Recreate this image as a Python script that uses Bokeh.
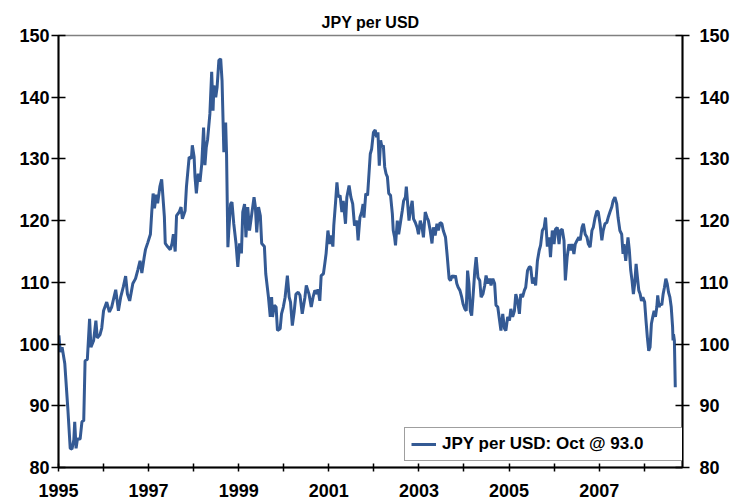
from bokeh.plotting import figure
from bokeh.models import FixedTicker, LinearAxis, Range1d, Legend, LegendItem
from bokeh.embed import file_html
from bokeh.resources import INLINE

# Decimal-year dates and JPY per USD values
dates = [
    1995.01, 1995.04, 1995.08, 1995.14, 1995.21, 1995.26, 1995.30, 1995.34, 1995.36, 1995.39,
    1995.42, 1995.48, 1995.52, 1995.56, 1995.59, 1995.64, 1995.69, 1995.72, 1995.78, 1995.83,
    1995.86, 1995.92, 1995.96, 1996.00, 1996.07, 1996.13, 1996.18, 1996.27, 1996.33, 1996.38,
    1996.44, 1996.49, 1996.53, 1996.58, 1996.65, 1996.71, 1996.76, 1996.81, 1996.85, 1996.90,
    1996.93, 1996.98, 1997.04, 1997.07, 1997.10, 1997.13, 1997.17, 1997.20, 1997.25, 1997.29,
    1997.35, 1997.37, 1997.42, 1997.48, 1997.52, 1997.55, 1997.59, 1997.62, 1997.68, 1997.72,
    1997.75, 1997.81, 1997.84, 1997.90, 1997.95, 1997.97, 1998.01, 1998.03, 1998.06, 1998.10,
    1998.14, 1998.18, 1998.22, 1998.25, 1998.28, 1998.31, 1998.36, 1998.40, 1998.43, 1998.45,
    1998.49, 1998.52, 1998.56, 1998.60, 1998.63, 1998.67, 1998.71, 1998.73, 1998.76, 1998.78,
    1998.82, 1998.85, 1998.89, 1998.94, 1998.98, 1999.02, 1999.06, 1999.09, 1999.13, 1999.16,
    1999.20, 1999.24, 1999.29, 1999.34, 1999.37, 1999.40, 1999.44, 1999.48, 1999.51, 1999.57,
    1999.60, 1999.66, 1999.70, 1999.73, 1999.75, 1999.79, 1999.83, 1999.86, 1999.92, 1999.95,
    1999.99, 2000.03, 2000.08, 2000.12, 2000.15, 2000.19, 2000.23, 2000.27, 2000.32, 2000.36,
    2000.41, 2000.47, 2000.50, 2000.56, 2000.61, 2000.65, 2000.69, 2000.74, 2000.76, 2000.80,
    2000.83, 2000.88, 2000.91, 2000.94, 2000.98, 2001.02, 2001.05, 2001.09, 2001.11, 2001.15,
    2001.18, 2001.21, 2001.25, 2001.29, 2001.32, 2001.37, 2001.40, 2001.45, 2001.49, 2001.53,
    2001.57, 2001.62, 2001.65, 2001.69, 2001.73, 2001.76, 2001.78, 2001.82, 2001.86, 2001.92,
    2001.95, 2001.99, 2002.03, 2002.06, 2002.09, 2002.12, 2002.15, 2002.18, 2002.21, 2002.24,
    2002.27, 2002.30, 2002.33, 2002.37, 2002.41, 2002.43, 2002.46, 2002.48, 2002.52, 2002.55,
    2002.59, 2002.63, 2002.66, 2002.70, 2002.72, 2002.75, 2002.78, 2002.81, 2002.85, 2002.88,
    2002.92, 2002.96, 2002.99, 2003.03, 2003.07, 2003.10, 2003.14, 2003.18, 2003.21, 2003.25,
    2003.29, 2003.32, 2003.36, 2003.40, 2003.43, 2003.47, 2003.51, 2003.54, 2003.59, 2003.63,
    2003.67, 2003.70, 2003.74, 2003.78, 2003.81, 2003.84, 2003.87, 2003.91, 2003.95, 2003.98,
    2004.02, 2004.05, 2004.08, 2004.11, 2004.14, 2004.17, 2004.20, 2004.24, 2004.27, 2004.31,
    2004.35, 2004.38, 2004.42, 2004.46, 2004.49, 2004.53, 2004.57, 2004.60, 2004.64, 2004.68,
    2004.71, 2004.75, 2004.79, 2004.82, 2004.86, 2004.90, 2004.93, 2004.97, 2005.01, 2005.04,
    2005.08, 2005.12, 2005.15, 2005.19, 2005.23, 2005.26, 2005.30, 2005.34, 2005.37, 2005.41,
    2005.45, 2005.48, 2005.52, 2005.56, 2005.59, 2005.63, 2005.67, 2005.70, 2005.74, 2005.78,
    2005.81, 2005.85, 2005.89, 2005.92, 2005.96, 2006.00, 2006.03, 2006.07, 2006.11, 2006.14,
    2006.18, 2006.22, 2006.25, 2006.29, 2006.33, 2006.36, 2006.40, 2006.44, 2006.47, 2006.51,
    2006.55, 2006.58, 2006.62, 2006.65, 2006.69, 2006.73, 2006.76, 2006.80, 2006.84, 2006.87,
    2006.91, 2006.95, 2006.98, 2007.02, 2007.06, 2007.09, 2007.13, 2007.17, 2007.20, 2007.24,
    2007.28, 2007.31, 2007.35, 2007.39, 2007.42, 2007.46, 2007.50, 2007.53, 2007.55, 2007.59,
    2007.62, 2007.64, 2007.67, 2007.70, 2007.73, 2007.76, 2007.79, 2007.82, 2007.85, 2007.88,
    2007.91, 2007.94, 2007.97, 2008.01, 2008.04, 2008.07, 2008.10, 2008.13, 2008.16, 2008.19,
    2008.22, 2008.25, 2008.28, 2008.30, 2008.33, 2008.36, 2008.39, 2008.42, 2008.45, 2008.48,
    2008.51, 2008.54, 2008.57, 2008.60, 2008.63, 2008.64, 2008.65, 2008.67, 2008.69,
]
jpy = [
    101.4, 98.7, 99.5, 96.8, 89.2, 83.1, 83.0, 84.5, 87.4, 83.1,
    84.6, 84.6, 87.4, 87.6, 97.3, 97.5, 104.1, 99.5, 100.6, 103.8,
    101.0, 101.5, 102.6, 105.4, 106.8, 105.2, 106.0, 108.8, 105.4, 107.6,
    109.3, 111.0, 108.1, 107.0, 109.8, 110.6, 112.0, 113.5, 111.5, 114.0,
    115.3, 116.4, 117.8, 121.4, 124.4, 122.0, 124.2, 122.8, 125.5, 126.7,
    120.6, 116.3, 115.8, 115.3, 116.3, 117.8, 115.0, 120.8, 121.4, 122.2,
    120.3, 121.6, 125.5, 130.3, 130.1, 132.2, 130.3, 127.1, 124.4, 127.6,
    126.3, 129.2, 135.1, 129.0, 131.9, 133.2, 137.3, 144.1, 137.8, 141.9,
    140.0, 141.6, 146.0, 146.2, 142.7, 131.1, 135.9, 130.8, 115.7, 118.4,
    122.7, 123.0, 119.5, 116.3, 112.5, 116.3, 114.7, 121.4, 122.7, 117.3,
    122.2, 118.4, 121.1, 123.8, 122.2, 118.1, 122.2, 120.8, 116.3, 115.8,
    111.4, 107.6, 104.4, 107.6, 104.4, 106.3, 106.0, 102.2, 102.5, 104.9,
    106.0, 107.6, 111.1, 107.6, 106.8, 103.0, 105.2, 108.1, 108.4, 107.9,
    104.9, 107.6, 109.5, 108.1, 106.0, 107.6, 108.7, 108.1, 108.9, 107.0,
    111.1, 111.4, 113.0, 114.7, 118.4, 116.2, 117.6, 115.8, 119.2, 123.0,
    126.2, 123.8, 124.1, 121.4, 123.2, 119.5, 123.8, 125.7, 123.8, 122.7,
    119.2, 120.0, 116.8, 120.5, 121.4, 122.7, 120.5, 124.4, 124.1, 130.8,
    131.6, 134.3, 134.7, 133.5, 134.3, 128.9, 133.0, 131.9, 132.2, 128.7,
    127.6, 127.1, 124.4, 124.1, 121.1, 118.4, 117.3, 116.0, 120.0, 117.8,
    119.7, 121.6, 123.2, 123.8, 125.5, 122.7, 120.0, 121.6, 123.2, 120.3,
    119.7, 118.9, 117.8, 120.0, 118.9, 117.3, 121.4, 120.5, 120.0, 118.4,
    116.3, 118.9, 117.6, 119.5, 118.4, 119.7, 119.5, 118.4, 117.3, 114.1,
    110.6, 110.3, 111.1, 110.8, 111.1, 109.8, 109.2, 108.7, 107.6, 106.5,
    105.7, 105.4, 111.9, 109.8, 105.4, 104.6, 107.6, 111.9, 114.1, 110.8,
    110.3, 107.6, 108.1, 109.5, 111.1, 109.8, 110.6, 109.5, 110.6, 109.8,
    106.3, 106.0, 103.8, 102.2, 104.9, 102.5, 102.2, 104.4, 103.8, 105.7,
    104.4, 105.4, 108.1, 107.0, 104.9, 108.1, 107.6, 108.7, 109.2, 111.9,
    112.5, 112.5, 109.8, 110.8, 109.5, 113.5, 115.2, 116.0, 118.4, 118.9,
    120.5, 115.8, 117.3, 114.1, 118.4, 116.2, 118.6, 118.9, 116.2, 118.4,
    118.6, 116.8, 110.3, 114.1, 116.2, 115.2, 116.2, 114.6, 116.2, 116.8,
    117.3, 116.8, 118.9, 119.5, 117.8, 117.3, 116.2, 115.7, 118.4, 118.9,
    120.5, 121.6, 121.4, 119.5, 116.8, 118.4, 119.5, 119.7, 120.5, 121.4,
    122.2, 123.2, 123.8, 122.7, 120.5, 118.4, 117.8, 114.6, 116.2, 113.5,
    115.7, 117.3, 115.2, 112.0, 110.3, 108.1, 109.8, 113.0, 110.8, 108.7,
    108.1, 107.0, 107.6, 106.8, 103.8, 101.1, 98.9, 99.5, 103.3, 104.4,
    105.4, 104.4, 106.0, 107.9, 106.0, 106.5, 106.3, 108.1, 109.2, 110.6,
    109.8, 108.4, 107.6, 106.0, 102.8, 100.6, 101.6, 100.6, 93.0,
]

series_name = "JPY per USD"
last_month = "Oct"
y_ticks = [80, 90, 100, 110, 120, 130, 140, 150]
x_ticks = list(range(1995, 2009))
x_labeled = [1995, 1997, 1999, 2001, 2003, 2005, 2007]

FONT = "Liberation Sans"
LINE_COLOR = "#345A94"

p = figure(width=732, height=502, output_backend="svg", toolbar_location=None,
           x_range=Range1d(1995, 2008.85), y_range=Range1d(80, 150),
           min_border_left=58, min_border_right=44, min_border_top=35,
           min_border_bottom=35, background_fill_color="white",
           border_fill_color="white")

p.title.text = series_name
p.title.align = "center"
p.title.text_font = FONT
p.title.text_font_size = "16px"
p.title.text_font_style = "bold"
p.title.text_color = "black"

p.xgrid.visible = False
p.ygrid.visible = False
p.outline_line_color = "#808080"
p.outline_line_width = 1.5

r = p.line(dates, jpy, line_color=LINE_COLOR, line_width=3)

p.add_layout(LinearAxis(), "right")

for ax in p.yaxis:
    ax.ticker = FixedTicker(ticks=y_ticks)
    ax.major_tick_in = 7
    ax.major_tick_out = 7
    ax.minor_tick_line_color = None
    ax.axis_line_width = 2
    ax.axis_line_color = "black"
    ax.major_tick_line_color = "black"
    ax.major_tick_line_width = 1.5
    ax.major_label_text_font = FONT
    ax.major_label_text_font_size = "18px"
    ax.major_label_text_font_style = "bold"
    ax.major_label_text_color = "black"
    ax.major_label_standoff = 2
p.yaxis[1].major_label_standoff = 10

xa = p.xaxis[0]
xa.ticker = FixedTicker(ticks=x_ticks)
xa.major_label_overrides = {yr: ("" if yr not in x_labeled else str(yr)) for yr in x_ticks}
xa.major_tick_in = 4
xa.major_tick_out = 4
xa.minor_tick_line_color = None
xa.axis_line_width = 2
xa.axis_line_color = "black"
xa.major_tick_line_color = "black"
xa.major_tick_line_width = 1.5
xa.major_label_text_font = FONT
xa.major_label_text_font_size = "18px"
xa.major_label_text_font_style = "bold"
xa.major_label_text_color = "black"
xa.major_label_standoff = 12

legend = Legend(items=[LegendItem(label=f"{series_name}: {last_month} @ {jpy[-1]:.1f}", renderers=[r])],
                location=(346, 6), padding=6, glyph_width=25, label_standoff=6,
                label_width=237, border_line_color="#404040", border_line_width=1.5,
                label_text_font=FONT, label_text_font_size="17px",
                label_text_font_style="bold", label_text_color="black",
                background_fill_alpha=1.0)
p.add_layout(legend)

open("out.html", "w").write(file_html(p, INLINE))
